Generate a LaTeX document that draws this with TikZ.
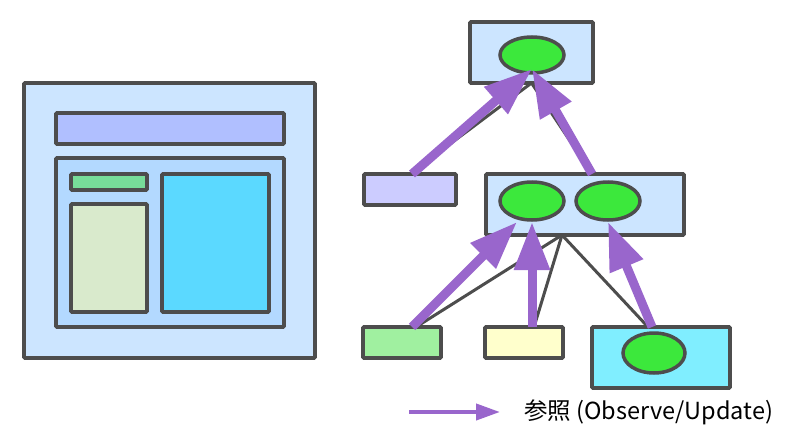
\documentclass[tikz,border=0pt]{standalone}
\usepackage{fontspec}
\setmainfont{Noto Sans CJK JP}
\usetikzlibrary{arrows.meta,calc,shapes.geometric}
\definecolor{edgegray}{HTML}{4D4D4D}
\definecolor{refpurple}{HTML}{9966CC}
\definecolor{paleblue}{HTML}{CCE5FF}
\definecolor{midblue}{HTML}{B3D9FF}
\definecolor{hdrblue}{HTML}{B0BFFF}
\definecolor{bargreen}{HTML}{77DD99}
\definecolor{palegreen}{HTML}{D9EACC}
\definecolor{skycyan}{HTML}{5BD9FF}
\definecolor{lavender}{HTML}{CCCCFF}
\definecolor{mintgreen}{HTML}{A0F0A0}
\definecolor{paleyellow}{HTML}{FFFFCC}
\definecolor{lightcyan}{HTML}{80EEFF}
\definecolor{objgreen}{HTML}{3CE83C}
\tikzset{
  box/.style={draw=edgegray, line width=3.8pt, rounded corners=1pt, inner sep=0pt, outer sep=0pt},
  obj/.style={ellipse, draw=edgegray, line width=3.5pt, fill=objgreen, inner sep=0pt, outer sep=0pt},
  treeedge/.style={draw=edgegray, line width=3pt},
  refarrow/.style={draw=refpurple, line width=9pt, -{Triangle[length=48pt,width=34pt]}},
  legarrow/.style={draw=refpurple, line width=4pt, -{Triangle[length=24pt,width=16pt]}},
}
\begin{document}
\begin{tikzpicture}[x=1pt,y=-1pt]
\useasboundingbox (0,0) rectangle (800,441);
% left window
\node[box, fill=paleblue, minimum width=291pt, minimum height=275pt] (win) at (169.5,220.5) {};
\node[box, fill=hdrblue, minimum width=228pt, minimum height=31pt] (hdr) at (170,128.5) {};
\node[box, fill=midblue, minimum width=228pt, minimum height=169pt] (cont) at (170,242.5) {};
\node[box, fill=bargreen, minimum width=76pt, minimum height=16pt] (gbar) at (109,182) {};
\node[box, fill=palegreen, minimum width=76pt, minimum height=108pt] (lpanel) at (109,258) {};
\node[box, fill=skycyan, minimum width=107pt, minimum height=138pt] (cpanel) at (215.5,243) {};
% right tree
\node[box, fill=paleblue, minimum width=123pt, minimum height=61pt] (top) at (531.5,52.5) {};
\node[obj, minimum width=64pt, minimum height=36pt] (e0) at (532,55) {};
\node[box, fill=lavender, minimum width=92pt, minimum height=31pt] (lav) at (410,189.5) {};
\node[box, fill=paleblue, minimum width=198pt, minimum height=61pt] (mid) at (585,204.5) {};
\node[obj, minimum width=64pt, minimum height=38pt] (e1) at (532,201) {};
\node[obj, minimum width=64pt, minimum height=38pt] (e2) at (608,201) {};
\node[box, fill=mintgreen, minimum width=78pt, minimum height=31pt] (gbox) at (402,342.5) {};
\node[box, fill=paleyellow, minimum width=78pt, minimum height=31pt] (ybox) at (524,342.5) {};
\node[box, fill=lightcyan, minimum width=138pt, minimum height=61pt] (cbox) at (661,357.5) {};
\node[obj, minimum width=62pt, minimum height=40pt] (e3) at (654,353) {};
% tree edges
\coordinate (mj) at ($(mid.south)+(-23,0)$);
\draw[treeedge] (top.south) -- (lav.north);
\draw[treeedge] (top.south) -- ($(mid.north)+(7,0)$);
\draw[treeedge] (mj) -- ($(gbox.north)+(14,0)$);
\draw[treeedge] (mj) -- ($(ybox.north)+(10,0)$);
\draw[treeedge] (mj) -- ($(cbox.north)+(-13,0)$);
% reference arrows
\draw[refarrow] ($(lav.north)+(2,0)$) -- ($(e0.south)+(0,-4)$);
\draw[refarrow] ($(mid.north)+(7,0)$) -- ($(e0.south)+(0,-4)$);
\draw[refarrow] ($(gbox.north)+(10,0)$) -- ($(e1.south)+(-15,2)$);
\draw[refarrow] ($(ybox.north)+(8,0)$) -- ($(e1.south)+(0,2)$);
\draw[refarrow] ($(cbox.north)+(-9,0)$) -- ($(e2.south)+(0,2)$);
% legend
\coordinate (l1) at (409,412);
\coordinate (l2) at (500,412);
\draw[legarrow] (l1) -- (l2);
\node[anchor=west, inner sep=0pt, font=\fontsize{23.5}{28}\selectfont] (legend) at (524,412) {参照 (Observe/Update)};
\end{tikzpicture}
\end{document}
